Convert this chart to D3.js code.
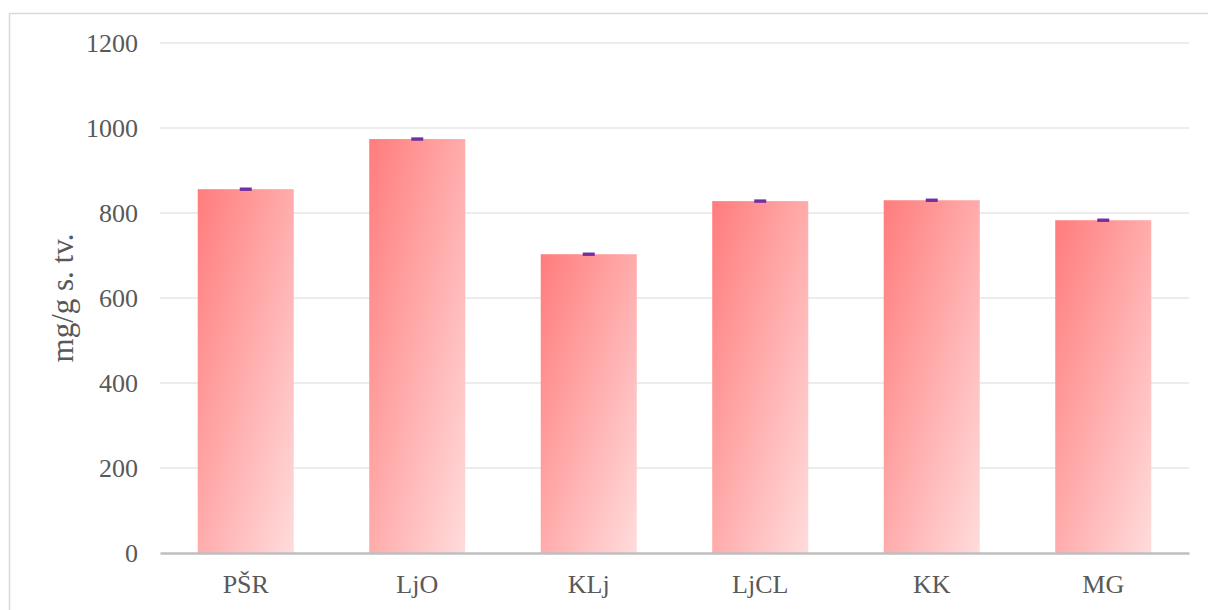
<!DOCTYPE html>
<html>
<head>
<meta charset="utf-8">
<script src="https://cdn.jsdelivr.net/npm/d3@7"></script>
<style>
  body { margin: 0; background: #fff; }
  text { font-family: "Liberation Serif", "Times New Roman", serif; fill: #595959; }
</style>
</head>
<body>
<div id="chart"></div>
<script>
const categories = ["PŠR", "LjO", "KLj", "LjCL", "KK", "MG"];
const values = [856, 974, 703, 828, 830, 783];
const errors = [4, 4, 4, 4, 4, 4];
const yTicks = [0, 200, 400, 600, 800, 1000, 1200];

const W = 1208, H = 610;
const margin = { top: 43, right: 19, bottom: 57, left: 160 };
const width = W - margin.left - margin.right;
const height = H - margin.top - margin.bottom;

const svg = d3.select("#chart").append("svg")
    .attr("width", W)
    .attr("height", H);

// chart area border
svg.append("rect")
    .attr("x", 9.5).attr("y", 13.5)
    .attr("width", 1210).attr("height", 620)
    .attr("fill", "none")
    .attr("stroke", "#d9d9d9")
    .attr("stroke-width", 1.5);

const defs = svg.append("defs");
const grad = defs.append("linearGradient")
    .attr("id", "barGrad")
    .attr("x1", 0).attr("y1", 0).attr("x2", 1).attr("y2", 1);
grad.append("stop").attr("offset", "0%").attr("stop-color", "#ff7c7c");
grad.append("stop").attr("offset", "100%").attr("stop-color", "#ffdcdc");

const g = svg.append("g").attr("transform", `translate(${margin.left},${margin.top})`);

const x = d3.scaleBand()
    .domain(categories)
    .range([0, width])
    .paddingInner(0.44)
    .paddingOuter(0.22);

const y = d3.scaleLinear()
    .domain([0, 1200])
    .range([height, 0]);

// gridlines
g.append("g")
    .selectAll("line")
    .data(yTicks.filter(d => d > 0))
    .enter().append("line")
    .attr("x1", 0).attr("x2", width)
    .attr("y1", d => y(d)).attr("y2", d => y(d))
    .attr("stroke", "#ececec")
    .attr("stroke-width", 2);

// y tick labels
const yAxis = d3.axisLeft(y).tickValues(yTicks).tickFormat(d3.format("d")).tickSize(0).tickPadding(22);
g.append("g")
    .call(yAxis)
    .attr("font-size", 26)
    .attr("font-family", "Liberation Serif, serif")
    .call(s => s.select(".domain").remove())
    .selectAll("text")
    .attr("fill", "#595959");

// bars
g.selectAll(".bar")
    .data(values)
    .enter().append("rect")
    .attr("class", "bar")
    .attr("x", (d, i) => x(categories[i]))
    .attr("width", x.bandwidth())
    .attr("y", d => y(d))
    .attr("height", d => height - y(d))
    .attr("fill", "url(#barGrad)");

// error bars
g.selectAll(".err")
    .data(values)
    .enter().append("rect")
    .attr("class", "err")
    .attr("x", (d, i) => x(categories[i]) + x.bandwidth() / 2 - 6)
    .attr("width", 12)
    .attr("y", (d, i) => y(d + errors[i]))
    .attr("height", (d, i) => y(d - errors[i]) - y(d + errors[i]))
    .attr("fill", "#7030a0");

// x axis
const xAxis = d3.axisBottom(x).tickSize(0).tickPadding(22);
g.append("g")
    .attr("transform", `translate(0,${height})`)
    .call(xAxis)
    .attr("font-size", 26)
    .attr("font-family", "Liberation Serif, serif")
    .call(s => s.select(".domain").attr("stroke", "#bfbfbf").attr("stroke-width", 2.5))
    .selectAll("text")
    .attr("fill", "#595959");

// y axis title
svg.append("text")
    .attr("transform", `translate(73,${margin.top + height / 2}) rotate(-90)`)
    .attr("text-anchor", "middle")
    .attr("font-size", 31)
    .text("mg/g s. tv.");
</script>
</body>
</html>
